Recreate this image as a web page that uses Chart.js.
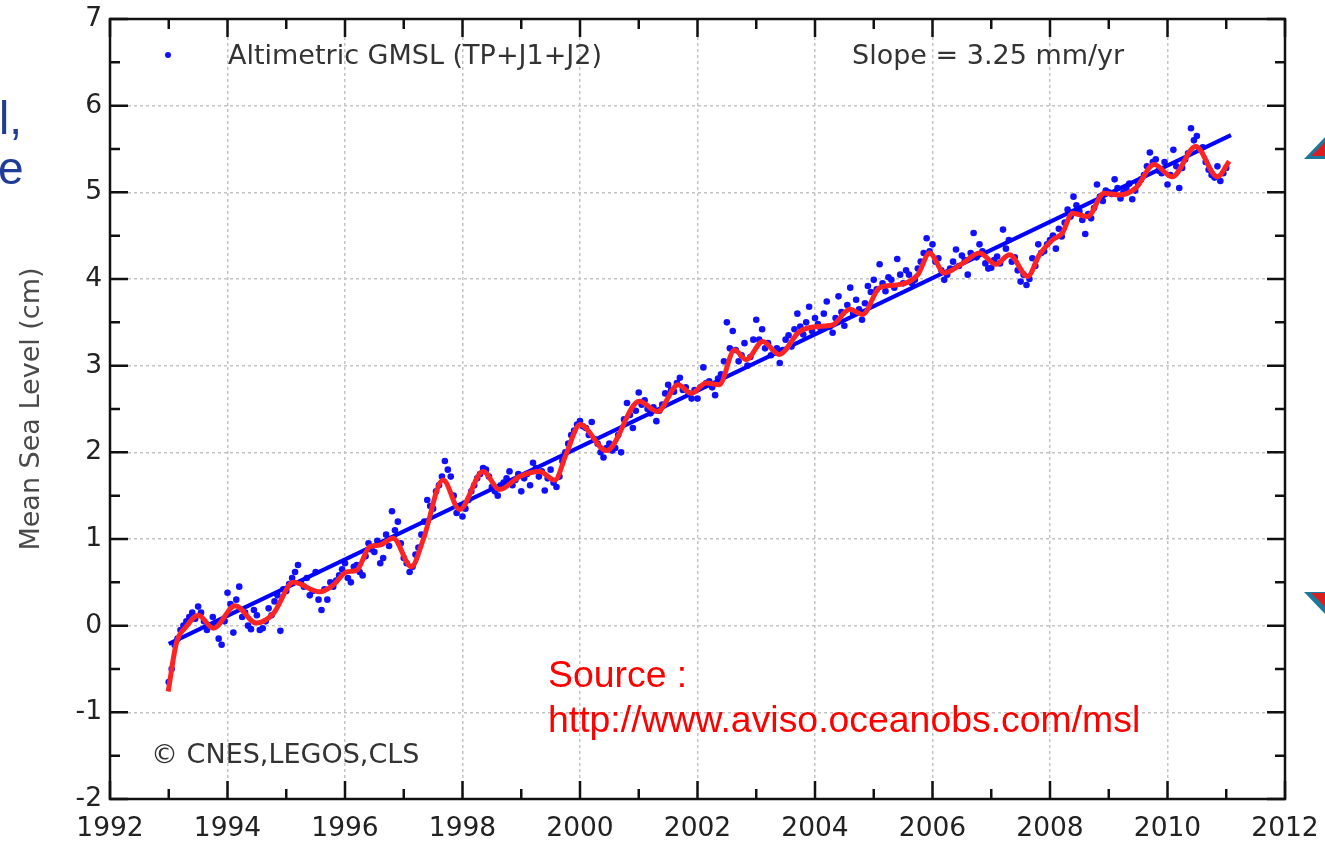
<!DOCTYPE html>
<html>
<head>
<meta charset="utf-8">
<script src="https://cdn.jsdelivr.net/npm/chart.js@4.4.1/dist/chart.umd.min.js"></script>
<style>
  body { margin: 0; background: #fff; }
  #wrap { position: relative; width: 1325px; height: 843px; overflow: hidden; }
  #chart { position: absolute; left: 0; top: 0; }
  .note { position: absolute; white-space: nowrap; line-height: 1; }
  .dj { font-family: 'DejaVu Sans', sans-serif; font-size: 27px; color: #333; }
  .src { font-family: 'Liberation Sans', Arial, sans-serif; font-size: 37.4px; color: #ff0000; }
  .slide { font-family: 'Liberation Sans', Arial, sans-serif; font-size: 46px; color: #1f3c96; }
  .tri { position: absolute; width: 22px; height: 23px; }
</style>
</head>
<body>
<div id="wrap">
  <canvas id="chart" width="1325" height="843"></canvas>

  <!-- bouts de la diapo coupés à gauche / à droite -->
  <div class="note slide" style="left:-1px; top:95px;">l,</div>
  <div class="note slide" style="left:-2px; top:145px;">e</div>
  <div class="tri" style="left:1304px; top:136px; background:#1b7a9c; clip-path:polygon(0 100%,100% 0,100% 100%);"></div>
  <div class="tri" style="left:1311px; top:142px; width:14px; height:14px; background:#d81e1e; clip-path:polygon(0 100%,100% 0,100% 100%);"></div>
  <div class="tri" style="left:1304px; top:592px; background:#1b7a9c; clip-path:polygon(0 0,100% 0,100% 100%);"></div>
  <div class="tri" style="left:1311px; top:593px; width:14px; height:14px; background:#d81e1e; clip-path:polygon(0 0,100% 0,100% 100%);"></div>

  <!-- légende et annotations dans le cadre -->
  <div class="note" style="left:165px; top:52px; width:6px; height:6px; border-radius:50%; background:#1010ff;"></div>
  <div class="note dj" style="left:228px; top:41px;">Altimetric GMSL (TP+J1+J2)</div>
  <div class="note dj" style="left:852px; top:41px;">Slope = 3.25 mm/yr</div>
  <div class="note dj" style="left:151px; top:740px;">© CNES,LEGOS,CLS</div>

  <div class="note src" style="left:548px; top:656px;">Source :</div>
  <div class="note src" style="left:548px; top:701px;">http://www.aviso.oceanobs.com/msl</div>
</div>

<script>
// axes
const xTicks = [1992, 1994, 1996, 1998, 2000, 2002, 2004, 2006, 2008, 2010, 2012];
const yTicks = [-2, -1, 0, 1, 2, 3, 4, 5, 6, 7];

// courbe lissée (rouge)
const smoothYears = [1992.99, 1993.13, 1993.30, 1993.50, 1993.76, 1994.13, 1994.49, 1994.78, 1995.12, 1995.57,
  1995.80, 1996.03, 1996.20, 1996.42, 1996.59, 1996.82, 1997.13, 1997.33, 1997.67, 1997.95,
  1998.35, 1998.63, 1998.97, 1999.31, 1999.57, 1999.77, 2000.00, 2000.45, 2001.01, 2001.32,
  2001.67, 2001.89, 2002.15, 2002.37, 2002.63, 2002.83, 2003.11, 2003.39, 2003.73, 2004.02,
  2004.30, 2004.59, 2004.81, 2005.10, 2005.38, 2005.75, 2005.95, 2006.20, 2006.51, 2006.80,
  2007.08, 2007.31, 2007.62, 2007.82, 2008.04, 2008.21, 2008.38, 2008.64, 2008.92, 2009.18,
  2009.46, 2009.77, 2010.08, 2010.48, 2010.85, 2011.05];
const smoothValues = [-0.76, -0.20, -0.01, 0.12, -0.03, 0.23, 0.03, 0.14, 0.50, 0.39,
  0.47, 0.62, 0.64, 0.91, 0.93, 1.01, 0.68, 0.99, 1.68, 1.34,
  1.78, 1.57, 1.72, 1.78, 1.68, 1.99, 2.32, 2.02, 2.59, 2.47,
  2.78, 2.68, 2.80, 2.78, 3.18, 3.07, 3.28, 3.13, 3.39, 3.45,
  3.47, 3.65, 3.59, 3.90, 3.93, 4.05, 4.30, 4.07, 4.18, 4.30,
  4.17, 4.28, 4.03, 4.28, 4.45, 4.53, 4.76, 4.72, 4.99, 4.97,
  5.05, 5.32, 5.18, 5.53, 5.18, 5.36];

// tendance linéaire (3.25 mm/an)
const trendYears = [1993.0, 2011.08];
const trendValues = [-0.21, 5.66];

// mesures altimétriques (points bleus), une ligne par année, pas de 0.1 an
const dotStart = 1993.0;
const dotValuesA = [
  -0.65, -0.22, -0.05, 0.05, 0.15, 0.22, 0.05, 0.0, 0.02, -0.22,
  0.38, -0.08, 0.45, 0.15, -0.04, 0.12, -0.03, 0.2, 0.28, -0.06,
  0.4, 0.55, 0.7, 0.45, 0.35, 0.62, 0.18, 0.3, 0.45, 0.58,
  0.72, 0.5, 0.7, 0.58, 0.95, 0.85, 0.72, 1.05, 1.32, 1.2,
  0.78, 0.62, 0.82, 1.05, 1.45, 1.35, 1.62, 1.9, 1.72, 1.3,
  1.26, 1.45, 1.62, 1.75, 1.8, 1.6, 1.5, 1.65, 1.78, 1.68,
  1.55, 1.75, 1.88, 1.72, 1.56, 1.8, 1.6, 1.9, 2.1, 2.25,
  2.36, 2.28, 2.35, 2.1, 1.94, 2.1, 2.05, 2.0, 2.57, 2.28,
  2.69, 2.6, 2.45, 2.36, 2.55, 2.78, 2.7, 2.86, 2.75, 2.62,
  2.62, 2.98, 2.82, 2.66, 2.9, 3.5, 3.4, 3.05, 3.26, 3.1,
  3.53, 3.42, 3.26, 3.15, 3.03, 3.3, 3.22, 3.6, 3.36, 3.68,
  3.55, 3.42, 3.74, 3.38, 3.8, 3.46, 3.9, 3.76, 3.53, 3.92,
  3.99, 4.17, 3.86, 3.99, 4.23, 3.95, 4.05, 3.99, 4.2, 4.47,
  4.4, 4.24, 3.99, 4.12, 4.34, 4.27, 4.05, 4.53, 4.4, 4.18,
  4.13, 4.26, 4.57, 4.45, 4.25, 3.97, 3.93, 4.24, 4.4, 4.32,
  4.45, 4.35, 4.49, 4.8, 4.95, 4.78, 4.52, 4.7, 5.09, 4.9,
  5.0, 5.15, 4.93, 5.05, 4.92, 5.1, 5.2, 5.46, 5.38, 5.22,
  5.09, 5.49, 5.05, 5.38, 5.74, 5.65, 5.52, 5.26, 5.17, 5.13,
  5.28
];
// deuxième série décalée de 0.05 an
const dotValuesB = [
  -0.5, -0.15, 0.0, 0.1, 0.08, 0.15, -0.05, 0.1, -0.15, 0.05,
  0.25, 0.3, 0.1, 0.0, 0.18, -0.05, 0.05, 0.12, 0.35, 0.42,
  0.48, 0.62, 0.5, 0.55, 0.4, 0.3, 0.42, 0.5, 0.52, 0.65,
  0.55, 0.68, 0.62, 0.8, 0.88, 0.98, 0.78, 0.92, 1.1, 0.95,
  0.72, 0.68, 0.9, 1.2, 1.38, 1.55, 1.72, 1.8, 1.5, 1.38,
  1.35, 1.55, 1.7, 1.82, 1.72, 1.55, 1.62, 1.7, 1.62, 1.75,
  1.7, 1.62, 1.82, 1.78, 1.7, 1.65, 1.72, 2.0, 2.2, 2.32,
  2.3, 2.2, 2.15, 2.0, 2.05, 2.02, 2.2, 2.38, 2.43, 2.48,
  2.55, 2.5, 2.52, 2.48, 2.68, 2.72, 2.8, 2.72, 2.68, 2.72,
  2.75, 2.8, 2.75, 2.85, 3.05, 3.2, 3.18, 3.12, 3.0, 3.3,
  3.3, 3.2, 3.12, 3.2, 3.18, 3.35, 3.42, 3.45, 3.5, 3.4,
  3.48, 3.6, 3.45, 3.55, 3.62, 3.7, 3.6, 3.65, 3.72, 3.85,
  3.88, 3.95, 4.02, 3.9, 4.05, 4.1, 3.95, 4.12, 4.3, 4.32,
  4.2, 4.1, 4.05, 4.2, 4.15, 4.22, 4.3, 4.25, 4.32, 4.12,
  4.22, 4.18, 4.35, 4.2, 4.1, 4.05, 4.0, 4.15, 4.3, 4.4,
  4.5, 4.58, 4.65, 4.72, 4.85, 4.68, 4.75, 4.82, 4.95, 5.02,
  4.98, 5.05, 5.0, 5.1, 5.02, 5.15, 5.3, 5.35, 5.25, 5.35,
  5.2, 5.3, 5.28, 5.45, 5.6, 5.5, 5.35, 5.2, 5.3, 5.22
];

const dots = [];
dotValuesA.forEach((v, i) => dots.push({ x: +(dotStart + i * 0.1).toFixed(2), y: v }));
dotValuesB.forEach((v, i) => dots.push({ x: +(dotStart + 0.05 + i * 0.1).toFixed(2), y: v }));

const smooth = smoothYears.map((t, i) => ({ x: t, y: smoothValues[i] }));
const trend = trendYears.map((t, i) => ({ x: t, y: trendValues[i] }));

const tickFont = { family: 'DejaVu Sans', size: 26.5 };

// pas de marge auto autour des axes : le cadre doit tomber pile
const fixPadding = s => { s.paddingLeft = 0; s.paddingRight = 0; s.paddingTop = 0; s.paddingBottom = 0; };

// cadre noir + graduations vers l'intérieur sur les 4 côtés
const frameTicks = {
  id: 'frameTicks',
  afterDatasetsDraw(chart) {
    const { ctx, chartArea: a, scales: { x, y } } = chart;
    ctx.save();
    ctx.strokeStyle = '#111';
    ctx.lineWidth = 2.5;
    ctx.strokeRect(a.left, a.top, a.right - a.left, a.bottom - a.top);
    ctx.beginPath();
    for (let yr = xTicks[0]; yr <= xTicks[xTicks.length - 1]; yr++) {
      const px = x.getPixelForValue(yr);
      const len = (yr % 2 === 0) ? 18 : 10;
      ctx.moveTo(px, a.bottom); ctx.lineTo(px, a.bottom - len);
      ctx.moveTo(px, a.top); ctx.lineTo(px, a.top + len);
    }
    for (let v = yTicks[0]; v <= yTicks[yTicks.length - 1]; v += 0.5) {
      const py = y.getPixelForValue(v);
      const len = Number.isInteger(v) ? 18 : 10;
      ctx.moveTo(a.left, py); ctx.lineTo(a.left + len, py);
      ctx.moveTo(a.right, py); ctx.lineTo(a.right - len, py);
    }
    ctx.stroke();
    ctx.restore();
  }
};

new Chart(document.getElementById('chart'), {
  type: 'scatter',
  data: {
    datasets: [
      {
        label: 'lissage',
        type: 'line',
        data: smooth,
        borderColor: '#ff2424',
        borderWidth: 5,
        pointRadius: 0,
        cubicInterpolationMode: 'monotone',
        order: 0
      },
      {
        label: 'tendance',
        type: 'line',
        data: trend,
        borderColor: '#0000ff',
        borderWidth: 4,
        pointRadius: 0,
        order: 1
      },
      {
        label: 'Altimetric GMSL (TP+J1+J2)',
        data: dots,
        backgroundColor: '#1010ff',
        borderWidth: 0,
        pointRadius: 3.3,
        order: 2
      }
    ]
  },
  options: {
    responsive: false,
    animation: false,
    layout: { padding: { left: 0, right: 40, top: 19, bottom: 0 } },
    plugins: { legend: { display: false }, tooltip: { enabled: false } },
    scales: {
      x: {
        type: 'linear',
        min: 1992,
        max: 2012,
        afterBuildTicks: s => { s.ticks = xTicks.map(v => ({ value: v })); },
        ticks: { font: tickFont, color: '#222', padding: 14, maxRotation: 0, callback: v => String(v) },
        grid: { color: '#c4c4c4', lineWidth: 1.5, drawTicks: false },
        border: { display: false, dash: [3, 3] },
        afterFit: s => { s.height = 44; fixPadding(s); }
      },
      y: {
        type: 'linear',
        min: -2,
        max: 7,
        afterBuildTicks: s => { s.ticks = yTicks.map(v => ({ value: v })); },
        ticks: { font: tickFont, color: '#222', padding: 8, callback: v => String(v) },
        grid: { color: '#c4c4c4', lineWidth: 1.5, drawTicks: false },
        border: { display: false, dash: [3, 3] },
        title: {
          display: true,
          text: 'Mean Sea Level (cm)',
          color: '#4a4a4a',
          font: { family: 'DejaVu Sans', size: 27 },
          padding: { top: 16, bottom: 0 }
        },
        afterFit: s => { s.width = 110; fixPadding(s); }
      }
    }
  },
  plugins: [frameTicks]
});
</script>
</body>
</html>
